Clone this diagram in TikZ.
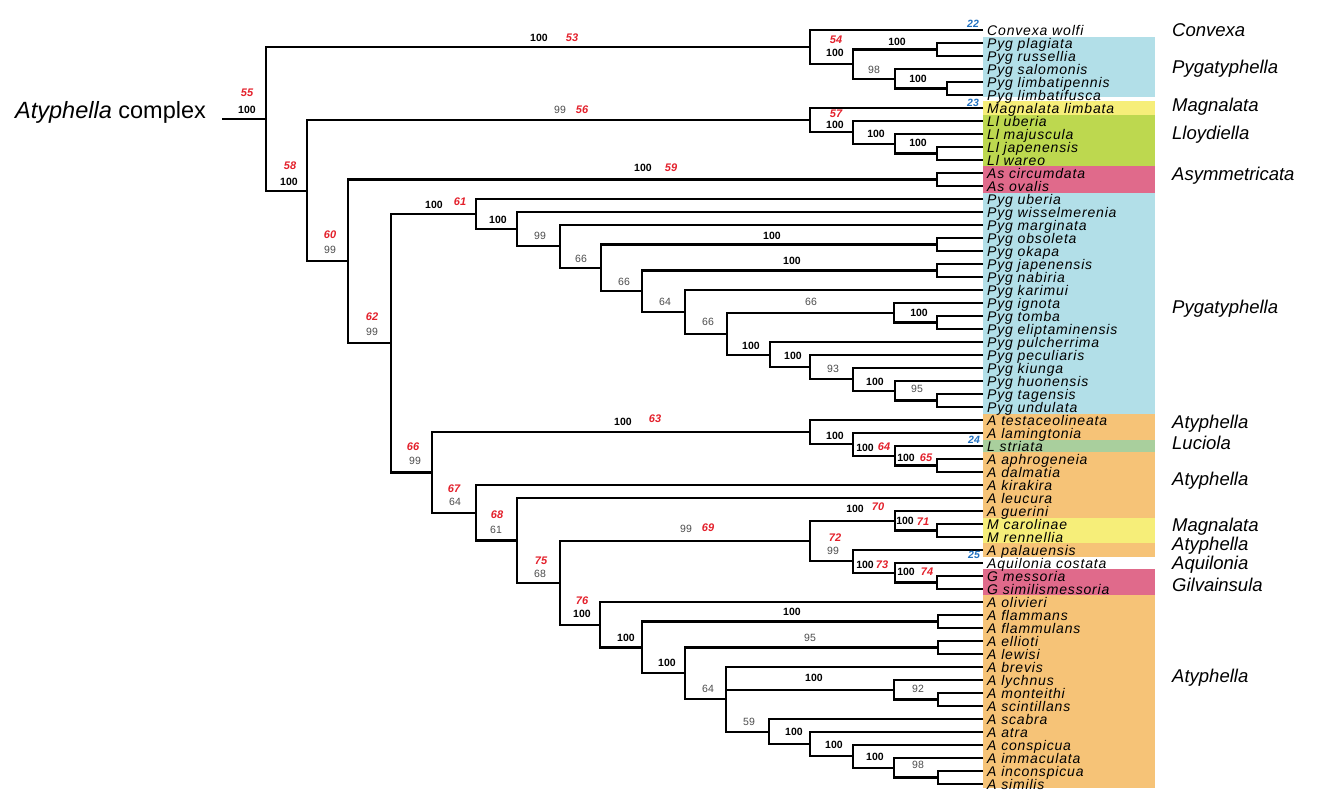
\documentclass[tikz,border=0pt]{standalone}
\usepackage{fontspec}
\setmainfont{Liberation Sans}
\newfontfamily\tipfont[LetterSpace=6]{Liberation Sans}
\usetikzlibrary{calc}
\definecolor{pygblue}{HTML}{B2DFE8}
\definecolor{magyel}{HTML}{F6EE79}
\definecolor{lloyd}{HTML}{BDD84F}
\definecolor{asym}{HTML}{E06A8B}
\definecolor{atyor}{HTML}{F6C377}
\definecolor{lucgr}{HTML}{A9CF9D}
\definecolor{cnred}{HTML}{E3202B}
\definecolor{bnblue}{HTML}{2070C0}
\begin{document}
\begin{tikzpicture}[x=1pt,y=-1pt,
  branch/.style={line width=2.1pt,line join=miter},
  tip/.style={font=\tipfont\itshape\fontsize{14}{14}\selectfont,anchor=base west,inner sep=0pt},
  grp/.style={font=\itshape\fontsize{18.5}{18.5}\selectfont,anchor=west,inner sep=0pt},
  bs/.style={font=\bfseries\fontsize{10.5}{10.5}\selectfont,inner sep=0pt},
  gs/.style={font=\fontsize{10.5}{10.5}\selectfont,text=black!70,inner sep=0pt},
  cn/.style={font=\bfseries\itshape\fontsize{11}{11}\selectfont,text=cnred,inner sep=0pt},
  bn/.style={font=\bfseries\itshape\fontsize{10.5}{10.5}\selectfont,text=bnblue,inner sep=0pt}]
  \useasboundingbox (0,0) rectangle (1339,803);
  % coloured genus boxes
  \foreach \ya/\yb/\col in {36.5/97/pygblue, 100.5/114.5/magyel, 114.5/166/lloyd, 166/192.5/asym,
      192.5/413.5/pygblue, 413.5/439.5/atyor, 439.5/451.5/lucgr, 451.5/517.5/atyor,
      517.5/543/magyel, 543/556.5/atyor, 568.5/595/asym, 595/788/atyor} {
    \fill[\col] (983,\ya) rectangle (1155,\yb);
  }
  % tips
  \foreach \i/\txt in {1/Convexa wolfi, 2/Pyg plagiata, 3/Pyg russellia, 4/Pyg salomonis,
      5/Pyg limbatipennis, 6/Pyg limbatifusca, 7/Magnalata limbata, 8/Ll uberia,
      9/Ll majuscula, 10/Ll japenensis, 11/Ll wareo, 12/As circumdata, 13/As ovalis,
      14/Pyg uberia, 15/Pyg wisselmerenia, 16/Pyg marginata, 17/Pyg obsoleta, 18/Pyg okapa,
      19/Pyg japenensis, 20/Pyg nabiria, 21/Pyg karimui, 22/Pyg ignota, 23/Pyg tomba,
      24/Pyg eliptaminensis, 25/Pyg pulcherrima, 26/Pyg peculiaris, 27/Pyg kiunga,
      28/Pyg huonensis, 29/Pyg tagensis, 30/Pyg undulata, 31/A testaceolineata,
      32/A lamingtonia, 33/L striata, 34/A aphrogeneia, 35/A dalmatia, 36/A kirakira,
      37/A leucura, 38/A guerini, 39/M carolinae, 40/M rennellia, 41/A palauensis,
      42/Aquilonia costata, 43/G messoria, 44/G similismessoria, 45/A olivieri,
      46/A flammans, 47/A flammulans, 48/A ellioti, 49/A lewisi, 50/A brevis,
      51/A lychnus, 52/A monteithi, 53/A scintillans, 54/A scabra, 55/A atra,
      56/A conspicua, 57/A immaculata, 58/A inconspicua, 59/A similis} {
    \coordinate (t\i) at (983,{30+13*(\i-1)});
    \node[tip] (l\i) at ([xshift=4pt,yshift=-5pt]t\i) {\txt};
  }
  % clades, children first
  \foreach \nd/\xx/\ca/\cb in {pr/937/t2/t3, ll/947/t5/t6, sl/895/t4/ll, n54/853/pr/sl,
      n53/810/t1/n54, jw/937/t10/t11, lm/895/t9/jw, n57/853/t8/lm, n56/810/t7/n57,
      n59/937/t12/t13, pk/937/t29/t30, pj/895/t28/pk, pi/853/t27/pj, ph/810/t26/pi,
      pg/770/t25/ph, te/937/t23/t24, ig/894/t22/te, pf/727/ig/pg, pe/685/t21/pf,
      jn/937/t19/t20, pd/642/jn/pe, ob/937/t17/t18, pc/601/ob/pd, pb/560/t16/pc,
      pa/517/t15/pb, n61/476/t14/pa, n65/937/t34/t35, n64/895/t33/n65, lam/853/t32/n64,
      n63/810/t31/lam, n71/937/t39/t40, n70/895/t38/n71, n74/937/t43/t44, n73/895/t42/n74,
      n72/853/t41/n73, n69/810/n70/n72, ic/938/t58/t59, im/894/t57/ic, co/853/t56/im,
      at/810/t55/co, sc/769/t54/at, mo/938/t52/t53, ly/894/t51/mo, br/726/t50/sc,
      el/938/t48/t49, ab/685/el/br, fl/938/t46/t47, aa/642/fl/ab, n76/600/t45/aa,
      n75/560/n69/n76, n68/517/t37/n75, n67/476/t36/n68, n66/432/n63/n67,
      n62/391/n61/n66, n60/348/n59/n62, n58/307/n56/n60, n55/266/n53/n58} {
    \coordinate (m) at ($(\ca)!.5!(\cb)$);
    \coordinate (\nd) at (\xx,0 |- m);
    \draw[branch] (\ca) -| (\nd) |- (\cb);
  }
  \draw[branch] (ly) -| (br);
  \coordinate (root) at (222,0 |- n55);
  \draw[branch] (root) -- (n55);
  % support values
  \foreach \x/\y/\v [count=\k] in {247/110/100, 289/182/100, 539/38/100, 835/53/100, 897/42/100,
      918/79/100, 835/125/100, 876/134/100, 918/143/100, 643/168/100, 434/205/100,
      498/220/100, 751/346/100, 772/236/100, 792/261/100, 919/313/100, 793/356/100,
      875/382/100, 623/422/100, 835/436/100, 865/448/100, 906/458/100, 855/509/100,
      905/521/100, 865/565/100, 906/572/100, 582/614/100, 792/612/100, 626/638/100,
      667/663/100, 814/678/100, 794/732/100, 834/745/100, 875/757/100} {
    \node[bs] (bs\k) at (\x,\y) {\v};
  }
  \foreach \x/\y/\v [count=\k] in {874/70/98, 560/110/99, 330/250/99, 372/332/99, 540/236/99,
      581/259/66, 624/282/66, 665/302/64, 708/322/66, 811/302/66, 833/369/93, 917/389/95,
      415/461/99, 455/502/64, 496/530/61, 540/574/68, 686/529/99, 833/551/99, 810/638/95,
      708/689/64, 918/689/92, 749/722/59, 918/765/98} {
    \node[gs] (gs\k) at (\x,\y) {\v};
  }
  % clade numbers
  \foreach \x/\y/\v in {247/93/55, 290/166/58, 572/38/53, 836/40/54, 582/110/56, 836/114/57,
      671/168/59, 330/235/60, 372/317/62, 460/202/61, 413/447/66, 655/419/63, 884/447/64,
      926/458/65, 454/489/67, 497/515/68, 541/561/75, 708/528/69, 878/507/70, 923/522/71,
      835/538/72, 882/565/73, 927/572/74, 582/601/76} {
    \node[cn] (c\v) at (\x,\y) {\v};
  }
  \foreach \x/\y/\v in {973/24/22, 973/103/23, 974/440/24, 974/555/25} {
    \node[bn] (c\v) at (\x,\y) {\v};
  }
  % genus names
  \foreach \y/\g [count=\k] in {30/Convexa, 69/Pygatyphella, 107/Magnalata, 135/Lloydiella,
      176/Asymmetricata, 309/Pygatyphella, 424/Atyphella, 443/Luciola, 481/Atyphella,
      527/Magnalata, 546/Atyphella, 565/Aquilonia, 585/Gilvainsula, 678/Atyphella} {
    \node[grp] (g\k) at (1172,\y) {\g};
  }
  \node[anchor=west,inner sep=0pt,font=\fontsize{23.5}{23.5}\selectfont] (title) at (15,112)
    {\textit{Atyphella} complex};
\end{tikzpicture}
\end{document}
